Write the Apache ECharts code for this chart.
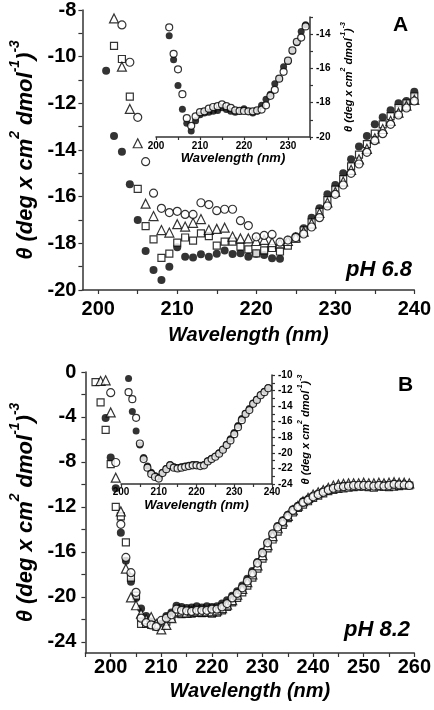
<!DOCTYPE html>
<html><head><meta charset="utf-8">
<script src="https://cdn.jsdelivr.net/npm/echarts@6/dist/echarts.min.js"></script>
<style>html,body{margin:0;padding:0;background:#fff}#c{width:434px;height:710px}</style>
</head><body><div id="c"></div>
<script>
// ---------- Panel A (pH 6.8) ----------
const wlA = [201,202,203,204,205,206,207,208,209,210,211,212,213,214,215,216,217,218,219,220,221,222,223,224,225,226,227,228,229,230,231,232,233,234,235,236,237,238,239,240];
const aFilled = [-10.6,-13.4,-14.07,-15.47,-17.0,-18.33,-19.14,-19.57,-19.0,-18.17,-18.57,-18.61,-18.47,-18.57,-18.45,-18.31,-18.46,-18.43,-18.57,-18.45,-18.5,-18.64,-18.66,-17.95,-17.7,-17.35,-16.9,-16.5,-15.9,-15.5,-15.0,-14.4,-13.85,-13.4,-12.9,-12.6,-12.3,-12.0,-11.9,-11.5];
const aOpenCircle = [null,null,-8.64,-10.24,-12.6,-14.5,-15.85,-16.5,-16.68,-16.63,-16.76,-16.76,-16.26,-16.34,-16.6,-16.54,-16.54,-17.03,-17.24,-17.72,-17.66,-17.62,-17.95,-17.86,-17.75,-17.6,-17.3,-16.9,-16.4,-15.9,-15.5,-15.0,-14.6,-14.1,-13.6,-13.3,-12.9,-12.5,-12.2,-11.9];
const aSquare = [null,-9.54,-10.1,-11.71,-15.67,-17.26,-17.83,-18.62,-18.44,-17.97,-17.75,-17.88,-17.57,-17.69,-18.1,-17.93,-17.93,-18.14,-18.26,-18.43,-18.3,-18.2,-18.35,-18.1,-17.8,-17.45,-17.1,-16.65,-16.15,-15.7,-15.25,-14.7,-14.2,-13.75,-13.3,-12.9,-12.55,-12.2,-12.0,-11.7];
const aTriangle = [null,-8.36,-10.43,-12.24,-13.71,-16.3,-16.83,-17.43,-17.54,-17.18,-17.28,-17.12,-16.96,-17.42,-17.38,-17.33,-17.71,-17.79,-17.79,-17.9,-17.85,-17.95,-18.0,-17.9,-17.75,-17.5,-17.15,-16.7,-16.25,-15.8,-15.35,-14.85,-14.4,-13.95,-13.5,-13.1,-12.75,-12.4,-12.1,-11.85];
const aXTicks = [200,205,210,215,220,225,230,235,240];
const aXLabels = [200,210,220,230,240];
const aYTicks = [-20,-19,-18,-17,-16,-15,-14,-13,-12,-11,-10,-9,-8];
const aYLabels = [-20,-18,-16,-14,-12,-10,-8];

// Inset A
const wlInsetA = [203,204,205,206,207,208,209,210,211,212,213,214,215,216,217,218,219,220,221,222,223,224,225,226,227,228,229,230,231,232,233,234];
const iaFilled = [-14.1,-15.5,-17.0,-18.38,-19.2,-19.65,-19.05,-18.7,-18.6,-18.55,-18.5,-18.45,-18.3,-18.4,-18.5,-18.55,-18.5,-18.35,-18.5,-18.6,-18.5,-18.15,-17.8,-17.5,-16.9,-16.6,-15.9,-15.6,-15.0,-14.5,-13.85,-13.45];
const iaOpen = [-13.6,-15.15,-16.05,-17.5,-18.9,-19.35,-18.8,-18.55,-18.5,-18.35,-18.25,-18.2,-18.1,-18.2,-18.3,-18.45,-18.48,-18.48,-18.5,-18.5,-18.45,-18.4,-18.15,-17.6,-17.25,-16.6,-16.2,-15.55,-14.95,-14.45,-14.2,-13.55];
const iaXTicks = [200,205,210,215,220,225,230,235];
const iaXLabels = [200,210,220,230];
const iaYTicks = [-20,-19,-18,-17,-16,-15,-14,-13];
const iaYLabels = [-20,-18,-16,-14];

// ---------- Panel B (pH 8.2) ----------
const wlB = [197,198,199,200,201,202,203,204,205,206,207,208,209,210,211,212,213,214,215,216,217,218,219,220,221,222,223,224,225,226,227,228,229,230,231,232,233,234,235,236,237,238,239,240,241,242,243,244,245,246,247,248,249,250,251,252,253,254,255,256,257,258,259];
const bFilled = [null,null,-4.1,-7.6,-10.35,-14.3,-16.8,-18.65,-20.1,-21.05,-21.7,-22.2,-22.6,-22.4,-21.7,-21.4,-20.8,-20.9,-21.0,-20.95,-20.85,-20.95,-20.85,-20.9,-20.85,-20.6,-20.3,-19.9,-19.5,-19.0,-18.4,-17.7,-16.9,-16.0,-15.2,-14.4,-13.7,-13.2,-12.7,-12.2,-11.9,-11.5,-11.3,-11.0,-10.8,-10.6,-10.4,-10.3,-10.2,-10.1,-10.1,-10.05,-10.05,-10.0,-10.05,-10.1,-10.05,-10.0,-10.05,-9.95,-10.0,-10.0,-10.05];
const bOpenCircle = [null,null,null,-1.84,-8.05,-13.55,-16.5,-17.85,-19.6,-21.9,-22.3,-22.5,-22.65,-22.1,-21.9,-21.6,-21.1,-21.2,-21.25,-21.3,-21.2,-21.2,-21.2,-21.1,-21.1,-20.9,-20.6,-20.1,-19.7,-19.2,-18.6,-17.9,-17.0,-16.1,-15.2,-14.4,-13.8,-13.3,-12.8,-12.3,-12.0,-11.6,-11.4,-11.1,-10.9,-10.7,-10.5,-10.35,-10.25,-10.2,-10.15,-10.1,-10.1,-10.1,-10.1,-10.15,-10.1,-10.15,-10.1,-10.0,-10.05,-10.05,-10.1];
const bSquare = [-0.9,-2.7,-5.15,-8.2,-12.0,-12.85,-15.15,-18.3,-19.9,-22.4,-22.4,-22.5,-22.65,-22.6,-22.2,-21.9,-21.5,-21.55,-21.5,-21.5,-21.4,-21.45,-21.4,-21.5,-21.4,-21.2,-20.9,-20.5,-20.1,-19.6,-19.0,-18.3,-17.5,-16.6,-15.7,-14.9,-14.2,-13.6,-13.0,-12.5,-12.1,-11.8,-11.5,-11.2,-11.0,-10.8,-10.6,-10.5,-10.4,-10.35,-10.3,-10.25,-10.2,-10.2,-10.25,-10.3,-10.2,-10.2,-10.25,-10.2,-10.15,-10.1,-10.1];
const bTriangle = [null,-0.8,-0.74,-3.6,-9.4,-12.4,-17.5,-20.05,-20.75,-21.5,-22.0,-21.8,-22.4,-22.9,-22.5,-21.9,-21.3,-21.3,-21.4,-21.3,-21.3,-21.3,-21.3,-21.3,-21.2,-21.0,-20.7,-20.3,-19.8,-19.3,-18.7,-18.0,-17.2,-16.3,-15.4,-14.6,-13.9,-13.3,-12.8,-12.3,-11.9,-11.5,-11.2,-10.9,-10.7,-10.5,-10.3,-10.1,-10.0,-9.95,-9.9,-9.9,-9.9,-9.85,-9.9,-9.9,-9.85,-9.9,-9.85,-9.8,-9.85,-9.85,-9.9];
const bXTicks = [195,200,205,210,215,220,225,230,235,240,245,250,255,260];
const bXLabels = [200,210,220,230,240,250,260];
const bYTicks = [-24,-22,-20,-18,-16,-14,-12,-10,-8,-6,-4,-2,0];
const bYLabels = [-24,-20,-16,-12,-8,-4,0];

// Inset B
const wlInsetB = [202,203,204,205,206,207,208,209,210,211,212,213,214,215,216,217,218,219,220,221,222,223,224,225,226,227,228,229,230,231,232,233,234,235,236,237,238,239];
const ibFilled = [-10.45,-14.7,-17.2,-19.0,-20.6,-21.7,-22.5,-22.9,-23.1,-22.5,-22.0,-21.5,-21.8,-21.9,-21.8,-21.7,-21.6,-21.5,-21.5,-21.6,-21.5,-21.0,-20.7,-20.4,-20.0,-19.5,-18.9,-18.2,-17.4,-16.5,-15.6,-14.9,-14.3,-13.6,-13.1,-12.5,-12.1,-11.6];
const ibOpen = [-12.2,-13.1,-15.5,-18.8,-20.8,-21.9,-22.7,-23.1,-23.3,-22.6,-22.1,-21.6,-21.9,-22.0,-21.9,-21.8,-21.7,-21.6,-21.6,-21.7,-21.6,-21.1,-20.8,-20.5,-20.1,-19.6,-19.0,-18.4,-17.6,-16.7,-15.8,-15.0,-14.5,-13.7,-13.2,-12.6,-12.2,-11.7];
const ibXTicks = [200,205,210,215,220,225,230,235,240];
const ibXLabels = [200,210,220,230,240];
const ibYTicks = [-24,-23,-22,-21,-20,-19,-18,-17,-16,-15,-14,-13,-12,-11,-10];
const ibYLabels = [-24,-22,-20,-18,-16,-14,-12,-10];

// ---------- build ----------
const FONT = '"Liberation Sans", Arial, sans-serif';
const AXC = '#333';
function pairs(wl, vals){ return wl.map((w,i)=>[w, vals[i]]).filter(p=>p[1]!==null); }
function ser(name, wl, vals, symbol, filled, size, gi){
  return {
    name, type:'scatter', xAxisIndex:gi, yAxisIndex:gi,
    data: pairs(wl, vals), symbol, symbolSize:size,
    itemStyle: filled ? {color:'#000'} : {color:'#fff', borderColor:'#000', borderWidth:1.2},
    emphasis:{disabled:true}, silent:true
  };
}
function yTitle(fs, sfs){
  return {
    rich:{
      t:{fontSize:fs, fontWeight:'bold', fontStyle:'italic', fontFamily:FONT, color:'#000', lineHeight:fs*1.3, verticalAlign:'bottom'},
      s:{fontSize:sfs, fontWeight:'bold', fontStyle:'italic', fontFamily:FONT, color:'#000', lineHeight:fs*1.3, verticalAlign:'top'}
    }
  };
}
const yName = '{t|θ (deg x cm}{s|2}{t| dmol}{s|-1}{t|)}{s|-3}';
function xAx(gi, min, max, ticks, labels, fs, margin, nameFs, nameGap, tickLen){
  return {
    gridIndex:gi, type:'value', min, max,
    axisLine:{show:true, onZero:false, lineStyle:{color:AXC, width:1.5}},
    axisTick:{show:true, customValues:ticks, length:tickLen, lineStyle:{color:AXC, width:1.2}},
    axisLabel:{customValues:labels, fontSize:fs, fontWeight:'bold', fontFamily:FONT, color:'#000', margin},
    splitLine:{show:false},
    name:'Wavelength (nm)', nameLocation:'middle', nameGap,
    nameTextStyle:{fontSize:nameFs, fontWeight:'bold', fontStyle:'italic', fontFamily:FONT, color:'#000'}
  };
}
function yAx(gi, min, max, ticks, labels, fs, margin, pos, nameFs, supFs, nameGap, tickLen){
  return {
    gridIndex:gi, type:'value', min, max, position:pos,
    axisLine:{show:true, onZero:false, lineStyle:{color:AXC, width:1.5}},
    axisTick:{show:true, customValues:ticks, length:tickLen, lineStyle:{color:AXC, width:1.2}},
    axisLabel:{customValues:labels, fontSize:fs, fontWeight:'bold', fontFamily:FONT, color:'#000', margin},
    splitLine:{show:false},
    name:yName, nameLocation:'middle', nameRotate:90, nameGap,
    nameTextStyle:yTitle(nameFs, supFs)
  };
}

const option = {
  animation:false,
  backgroundColor:'#fff',
  grid:[
    {left:72, top:10, width:345, height:280},
    {left:156, top:17, width:154, height:120},
    {left:73, top:372, width:344, height:281},
    {left:121, top:375, width:151, height:109}
  ],
  xAxis:[
    xAx(0,198,240,aXTicks,aXLabels,20,9,20,35,4),
    xAx(1,200,235,iaXTicks,iaXLabels,10,4,13,15,3),
    xAx(2,195,260,bXTicks,bXLabels,20,4,20,28,4),
    xAx(3,200,240,ibXTicks,ibXLabels,10,3,13,15,3)
  ],
  yAxis:[
    yAx(0,-20,-8,aYTicks,aYLabels,20,6,'left',22,14,36,4),
    yAx(1,-20,-13,iaYTicks,iaYLabels,10,6,'right',11,7,30,3),
    yAx(2,-25,0,bYTicks,bYLabels,20,9,'left',22,14,38,4),
    yAx(3,-24,-10,ibYTicks,ibYLabels,10,6,'right',11,7,25,3)
  ],
  series:[
    ser('A filled', wlA, aFilled, 'circle', true, 8, 0),
    ser('A square', wlA, aSquare, 'rect', false, 7, 0),
    ser('A triangle', wlA, aTriangle, 'triangle', false, 9, 0),
    ser('A open', wlA, aOpenCircle, 'circle', false, 8, 0),
    ser('inset A filled', wlInsetA, iaFilled, 'circle', true, 7, 1),
    ser('inset A open', wlInsetA, iaOpen, 'circle', false, 7, 1),
    ser('B filled', wlB, bFilled, 'circle', true, 8, 2),
    ser('B square', wlB, bSquare, 'rect', false, 7, 2),
    ser('B triangle', wlB, bTriangle, 'triangle', false, 9, 2),
    ser('B open', wlB, bOpenCircle, 'circle', false, 8, 2),
    ser('inset B filled', wlInsetB, ibFilled, 'circle', true, 7, 3),
    ser('inset B open', wlInsetB, ibOpen, 'circle', false, 7, 3)
  ],
  graphic:[
    {type:'text', left:393, top:15, style:{text:'A', font:'bold 21px '+FONT, fill:'#000'}},
    {type:'text', right:22, top:259, style:{text:'pH 6.8', font:'italic bold 22px '+FONT, fill:'#000'}},
    {type:'text', left:398, top:375, style:{text:'B', font:'bold 21px '+FONT, fill:'#000'}},
    {type:'text', right:24, top:619, style:{text:'pH 8.2', font:'italic bold 22px '+FONT, fill:'#000'}}
  ]
};
const chart = echarts.init(document.getElementById('c'), null, {renderer:'canvas'});
chart.setOption(option);
</script>
</body></html>
